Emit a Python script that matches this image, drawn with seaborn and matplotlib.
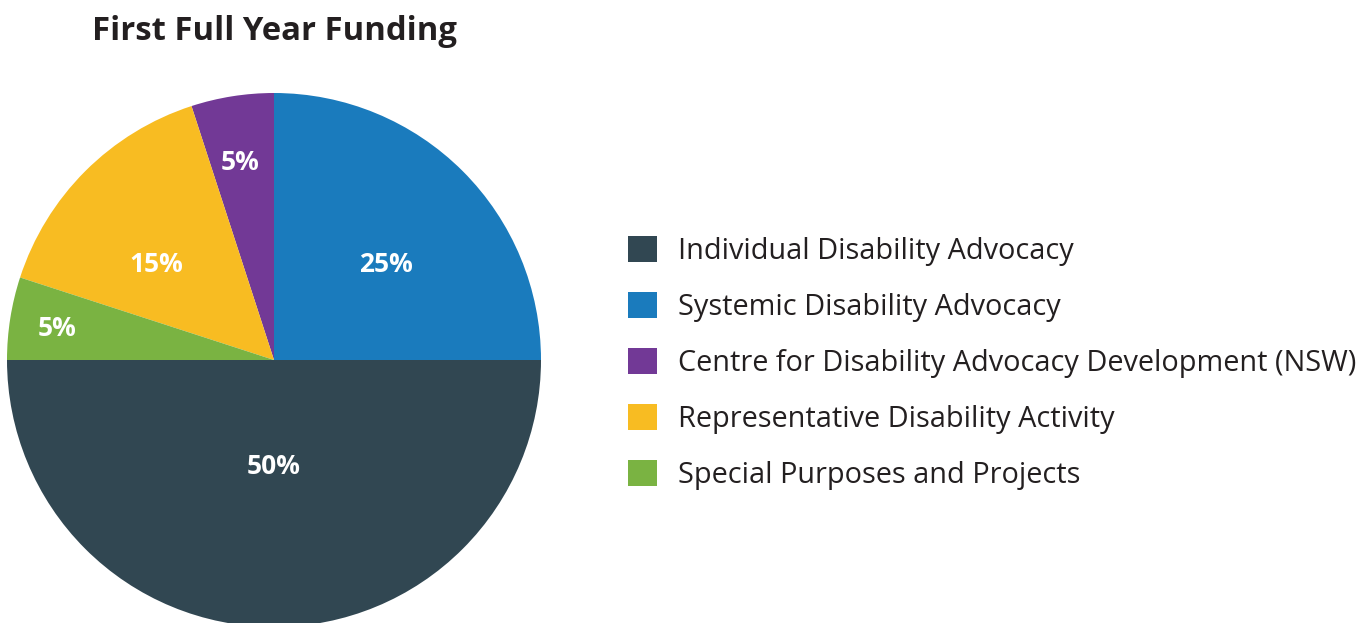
import matplotlib
matplotlib.use("Agg")
import matplotlib.pyplot as plt
import seaborn as sns
import numpy as np

categories = [
    "Individual Disability Advocacy",
    "Systemic Disability Advocacy",
    "Centre for Disability Advocacy Development (NSW)",
    "Representative Disability Activity",
    "Special Purposes and Projects",
]
shares = [50, 25, 5, 15, 5]
colors = ["#314752", "#1a7bbd", "#723996", "#f8bc22", "#7ab342"]
title = "First Full Year Funding"

# placement of each percentage label: fraction of the radius, and
# angular nudge (degrees) away from the wedge's mid-angle
label_radius = [0.40, 0.55, 0.75, 0.57, 0.82]
label_nudge = [0.0, -4.4, 0.8, 5.9, 0.6]

sns.set_theme(style="white")
plt.rcParams["font.family"] = ["Open Sans", "DejaVu Sans"]

W, H = 1365, 623
fig = plt.figure(figsize=(W / 100, H / 100), dpi=100)

# pie occupies a square box centred at (274, 360) px with radius 267 px
cx, cy, r = 274, 360, 267
ax = fig.add_axes([(cx - r) / W, (H - cy - r) / H, 2 * r / W, 2 * r / H])
wedges, _ = ax.pie(shares, colors=colors, startangle=180, counterclock=True,
                   radius=1.0, wedgeprops=dict(linewidth=0))
ax.set_xlim(-1, 1)
ax.set_ylim(-1, 1)
ax.set_axis_off()

for w, v, d, n in zip(wedges, shares, label_radius, label_nudge):
    ang = np.deg2rad((w.theta1 + w.theta2) / 2 + n)
    ax.text(d * np.cos(ang), d * np.sin(ang), f"{v}%", ha="center", va="center",
            color="white", fontsize=19, fontweight="bold")

fig.text(92 / W, 1 - 32 / H, title, ha="left", va="center",
         fontsize=23.7, fontweight="bold", color="#231f20")

fig.legend(wedges, categories, loc="center left",
           bbox_to_anchor=(628 / W, 1 - 363 / H), frameon=False,
           borderaxespad=0, borderpad=0,
           fontsize=20.8, handlelength=1.0, handleheight=1.0,
           handletextpad=0.72, labelspacing=0.9, labelcolor="#231f20")

fig.savefig("out.png", dpi=100)
